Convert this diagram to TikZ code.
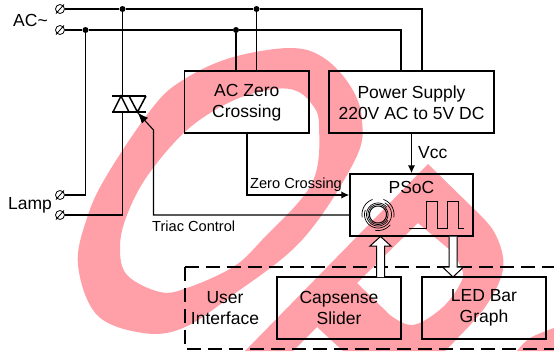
\documentclass[tikz,border=0pt]{standalone}
\usepackage{fontspec}
\setmainfont{Liberation Sans}
\usetikzlibrary{arrows.meta,calc}
\definecolor{wm}{RGB}{255,160,168}
\tikzset{
  wire/.style={line width=1.5pt},
  thinwire/.style={line width=1.1pt},
  box/.style={draw,line width=1.5pt,inner sep=0pt},
  lbl/.style={inner sep=0pt,align=center,font=\fontsize{17.5}{21}\selectfont},
  smalllbl/.style={inner sep=0pt,font=\fontsize{14.6}{18}\selectfont},
  term/.style={draw,circle,line width=0.8pt,inner sep=0pt,minimum size=9pt},
  junction/.style={fill,circle,inner sep=0pt,minimum size=6pt},
  tip/.style={-{Latex[length=8pt,width=7.5pt]}},
  gatetip/.style={-{Latex[length=11pt,width=8.5pt]}},
  hollow/.style={draw,fill=white,line width=1pt,line join=miter},
  thinpen/.style={line width=0.7pt}
}
\begin{document}
\begin{tikzpicture}[x=1pt,y=-1pt]
\useasboundingbox (0,0) rectangle (554,351);
% watermark
\fill[wm,even odd rule]
  plot[smooth cycle,tension=0.6] coordinates {(290,48)(324,58)(351,87)(362,120)(355,160)(302,240)(230,297)(183,328)(143,333)(97,315)(78,265)(87,218)(107,175)(153,107)(183,80)(230,58)}
  plot[smooth cycle,tension=0.6] coordinates {(294,90)(311,103)(319,125)(312,183)(262,240)(233,267)(187,288)(160,292)(127,275)(120,247)(127,215)(148,175)(187,130)(230,102)(268,90)};
\fill[wm,even odd rule]
  (428,164) -- (245,351) -- (293,351) -- (317,327) -- (343,351) --
  plot[smooth,tension=0.6] coordinates {(445,351)(453,343)(483,310)(500,280)(503,257)(493,230)(473,208)} -- cycle
  (357,283) -- (418,223) --
  plot[smooth,tension=0.6] coordinates {(450,250)(460,265)(462,280)(443,307)(413,325)(390,315)} -- cycle;
\fill[wm] plot[smooth,tension=0.6] coordinates {(554,328)(530,338)(517,351)} -- (554,351) -- cycle;
% dashed user interface frame
\coordinate (uiTR) at (554,267);
\coordinate (uiTL) at (184.5,267);
\coordinate (uiBL) at (184.5,349);
\coordinate (uiBR) at (554,349);
\draw[line width=2pt,dash pattern=on 14pt off 7pt] (uiTL) -- (uiTR);
\draw[line width=2pt,dash pattern=on 14pt off 7pt] (uiTL) -- (uiBL) -- (uiBR);
% boxes
\node[box,minimum width=124.5pt,minimum height=62pt] (zero) at (246.75,102) {};
\node[lbl] (zerolbl) at (246.75,102.5) {AC Zero\\Crossing};
\node[box,minimum width=165pt,minimum height=62pt] (power) at (411.5,102) {};
\node[lbl] (powerlbl) at (411.5,102.5) {Power Supply\\220V AC to 5V DC};
\node[box,minimum width=123pt,minimum height=62pt] (psoc) at (411.5,205) {};
\node[lbl] (psoclbl) at (411.5,187) {PSoC};
\node[box,minimum width=124pt,minimum height=62pt] (cap) at (339,308) {};
\node[lbl] (caplbl) at (339,308) {Capsense\\Slider};
\node[box,minimum width=124pt,minimum height=62pt] (led) at (484,308) {};
\node[lbl] (ledlbl) at (484,308) {LED Bar\\Graph};
\node[lbl] (ui) at (225,308.5) {User\\Interface};
% labels
\node[lbl,anchor=west] (ac) at (13,20) {AC\char"007E};
\node[lbl,anchor=west] (lamp) at (8,205) {Lamp};
\node[lbl,anchor=west] (vcc) at (418,153) {Vcc};
\node[smalllbl,anchor=west] (zc) at (250,184.5) {Zero Crossing};
\node[smalllbl,anchor=west] (tc) at (152,226) {Triac Control};
% terminals
\node[term] (t1) at (60,9) {};
\node[term] (t2) at (60,30) {};
\node[term] (t3) at (60,195) {};
\node[term] (t4) at (60,215) {};
\foreach \t in {t1,t2,t3,t4} \draw[line width=0.8pt] ([shift={(-4,4.5)}]\t.center) -- ([shift={(4,-4.5)}]\t.center);
% junctions
\node[junction] (j1) at (122.5,9) {};
\node[junction] (j2) at (256.5,9) {};
\node[junction] (j3) at (85.5,30) {};
\node[junction] (j4) at (236,30) {};
% mains wires
\draw[wire] (t1.east) -- (j1) -- (j2) -- (422,9) -- (422,71);
\draw[wire] (t2.east) -- (j3) -- (j4) -- (401,30) -- (401,71);
\draw[wire] (j2) -- (j2 |- zero.north);
\draw[wire] (j4) -- (j4 |- zero.north);
% triac
\coordinate (ttop) at (122.5,96);
\coordinate (tbot) at (122.5,112);
\coordinate (gate) at (137.5,112.5);
\draw[wire] (112,96) -- (146,96);
\draw[wire] (112,112) -- (146,112);
\draw[wire,line join=miter] (113,112) -- (121,96) -- (129,112);
\draw[wire,line join=miter] (129,96) -- (137.5,112) -- (146,96);
\draw[wire] (j1) -- (ttop);
\draw[wire] (tbot) -- (tbot |- t4) -- (t4.east);
\draw[wire] (j3) -- (j3 |- t3) -- (t3.east);
% signals
\draw[wire,tip] (power.south) -- (psoc.north);
\draw[wire,tip] (zero.south) -- (zero.south |- 0,195) -- (psoc.west |- 0,195);
\draw[thinwire,gatetip] (psoc.west |- 0,215) -- (153.5,215) -- (153.5,130) -- (gate);
% hollow arrows
\coordinate (upb) at (380.5,277);
\draw[hollow] ([shift={(-4,0)}]upb) -- ([shift={(-4,-31)}]upb) -- ([shift={(-10.5,-31)}]upb) -- ([shift={(0,-40.5)}]upb) -- ([shift={(10.5,-31)}]upb) -- ([shift={(4,-31)}]upb) -- ([shift={(4,0)}]upb);
\coordinate (dnb) at (453,236.5);
\draw[hollow] ([shift={(-4,0)}]dnb) -- ([shift={(-4,30.5)}]dnb) -- ([shift={(-10.5,30.5)}]dnb) -- ([shift={(0,40.5)}]dnb) -- ([shift={(10.5,30.5)}]dnb) -- ([shift={(4,30.5)}]dnb) -- ([shift={(4,0)}]dnb);
% capsense icon
\draw[line width=1pt] plot[domain=0:360,samples=50,smooth] ({378+8.5*cos(\x)},{214.5+8.5*sin(\x)});
\draw[thinpen] plot[domain=0:360,samples=50,smooth] ({378+10*cos(\x)},{214.5+10*sin(\x)});
\draw[thinpen] plot[domain=30:320,samples=40,smooth] ({378+11.5*cos(\x)},{214.5+11.5*sin(\x)});
\draw[thinpen] plot[domain=-60:200,samples=40,smooth] ({378+13.5*cos(\x)},{214.5+13.5*sin(\x)});
\draw[thinpen] plot[domain=-70:10,samples=20,smooth] ({378+16*cos(\x)},{214.5+16*sin(\x)});
\draw[thinpen] plot[domain=40:100,samples=20,smooth] ({378+16*cos(\x)},{214.5+16*sin(\x)});
\draw[thinpen] plot[domain=170:250,samples=20,smooth] ({378+16*cos(\x)},{214.5+16*sin(\x)});
% square wave
\draw[line width=0.9pt] (409,228) -- (426,228) -- (426,201) -- (437,201) -- (437,228) -- (447,228) -- (447,201) -- (458,201) -- (458,228) -- (464,228);
\end{tikzpicture}
\end{document}
